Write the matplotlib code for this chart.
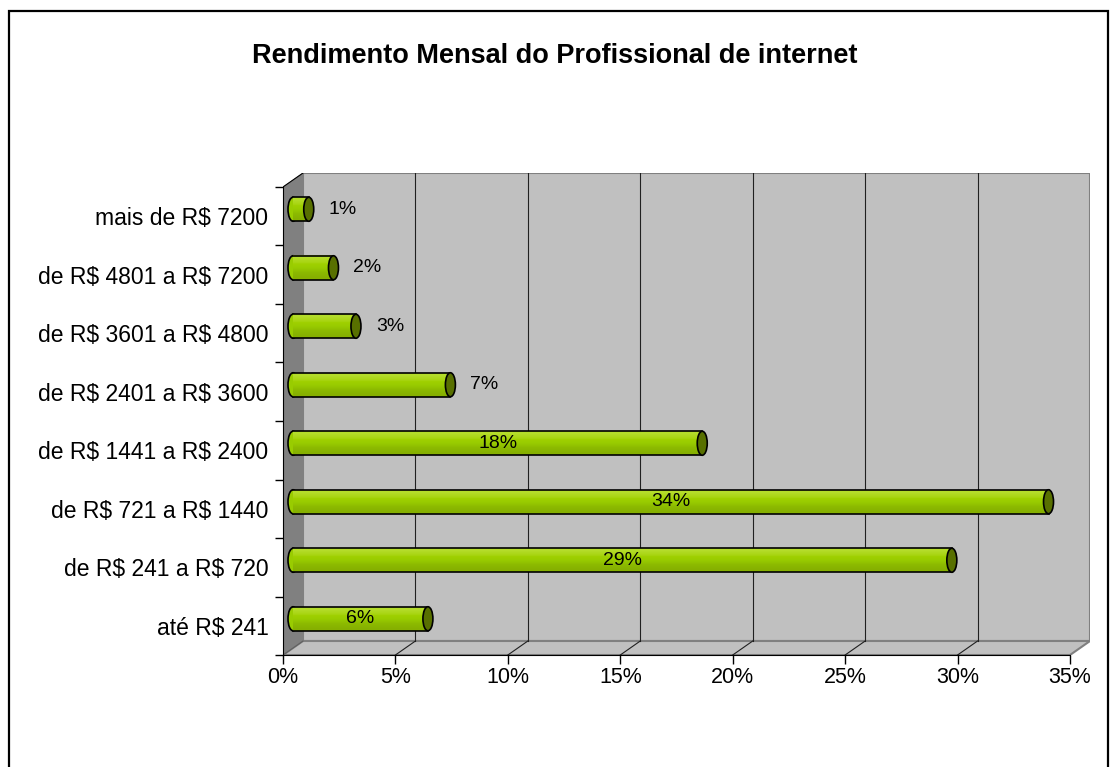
import numpy as np
import matplotlib.pyplot as plt
from matplotlib.patches import Polygon, Ellipse, Rectangle
from matplotlib.colors import LinearSegmentedColormap

plt.rcParams['font.family'] = ['Liberation Sans', 'DejaVu Sans']

categorias = ["até R$ 241", "de R$ 241 a R$ 720", "de R$ 721 a R$ 1440",
              "de R$ 1441 a R$ 2400", "de R$ 2401 a R$ 3600",
              "de R$ 3601 a R$ 4800", "de R$ 4801 a R$ 7200", "mais de R$ 7200"]
valores = [6.0, 29.3, 33.6, 18.2, 7.0, 2.8, 1.8, 0.7]
rotulos = ["6%", "29%", "34%", "18%", "7%", "3%", "2%", "1%"]
dentro = [True, True, True, True, False, False, False, False]
xticks = [0, 5, 10, 15, 20, 25, 30, 35]

W, H = 1110, 767
fig = plt.figure(figsize=(W / 100, H / 100), dpi=100)

# front plane in pixels
x0px, x35px = 283, 1070
ybot, ytop = 655, 187
ddx, ddy = 20, 14          # depth offset in px
pxu = (x35px - x0px) / 35.0
pyu = (ybot - ytop) / 8.0
dx = ddx / pxu
dy = ddy / pyu

ax = fig.add_axes([x0px / W, (H - ybot) / H, (x35px + ddx - x0px) / W, (ybot - ytop + ddy) / H])
ax.set_xlim(0, 35 + dx)
ax.set_ylim(-0.5, 7.5 + dy)
ax.set_facecolor('none')

# walls
ax.add_patch(Polygon([(dx, -0.5 + dy), (35 + dx, -0.5 + dy), (35 + dx, 7.5 + dy), (dx, 7.5 + dy)],
                     closed=True, fc='#C0C0C0', ec='#808080', lw=1.5, zorder=0))
ax.add_patch(Polygon([(0, -0.5), (dx, -0.5 + dy), (dx, 7.5 + dy), (0, 7.5)],
                     closed=True, fc='#808080', ec='#808080', lw=0.5, zorder=0.5))
ax.add_patch(Polygon([(0, -0.5), (35, -0.5), (35 + dx, -0.5 + dy), (dx, -0.5 + dy)],
                     closed=True, fc='#C0C0C0', ec='#808080', lw=1.5, zorder=0.5))
ax.plot([0, dx], [7.5, 7.5 + dy], color='black', lw=0.8, zorder=1)
ax.plot([0, dx], [-0.5, -0.5 + dy], color='#606060', lw=0.8, zorder=1)

# linhas de grade
for t in xticks[1:-1]:
    ax.plot([t + dx, t + dx], [-0.5 + dy, 7.5 + dy], color='#202020', lw=0.8, zorder=1)
    ax.plot([t, t + dx], [-0.5, -0.5 + dy], color='#202020', lw=0.8, zorder=1)

# barras (cilindros)
bh = 24 / pyu
capw = 10 / pxu
grad = np.array([[0.0], [0.15], [0.5], [0.75], [1.0]])
cmap = LinearSegmentedColormap.from_list('g', ['#B4DC2A', '#9FD000', '#99CC00', '#8CBA00', '#86B000'])
for i, v in enumerate(valores):
    yc = i + dy / 2
    xs = dx / 2
    xe = v + dx / 2
    ax.add_patch(Ellipse((xs, yc), capw, bh, fc='#99CC00', ec='black', lw=1.2, zorder=2))
    ax.imshow(grad, cmap=cmap, aspect='auto', extent=(xs, xe, yc - bh / 2, yc + bh / 2),
              zorder=3, interpolation='bilinear')
    ax.plot([xs, xe], [yc + bh / 2, yc + bh / 2], color='black', lw=1.2, zorder=4)
    ax.plot([xs, xe], [yc - bh / 2, yc - bh / 2], color='black', lw=1.2, zorder=4)
    ax.add_patch(Ellipse((xe, yc), capw, bh, fc='#587000', ec='black', lw=1.2, zorder=5))
    if dentro[i]:
        ax.text(xs + v / 2, yc, rotulos[i], ha='center', va='center', fontsize=14, zorder=6)
    else:
        ax.text(xe + capw / 2 + 15 / pxu, yc, rotulos[i], ha='left', va='center', fontsize=14, zorder=6)

# eixos
for s in ['top', 'right']:
    ax.spines[s].set_visible(False)
ax.spines['bottom'].set_bounds(0, 35)
ax.spines['left'].set_bounds(-0.5, 7.5)
ax.spines['bottom'].set_zorder(7)
ax.spines['left'].set_zorder(7)
ax.set_xticks(xticks)
ax.set_xticklabels([f"{t}%" for t in xticks], fontsize=15.5)
ax.set_yticks(range(len(categorias)))
ax.set_yticklabels([c.replace('$', r'\$') for c in categorias], fontsize=16.5)
ax.set_yticks(np.arange(-0.5, 8, 1), minor=True)
ax.tick_params(axis='y', which='major', length=0, pad=10.5)
ax.tick_params(axis='y', which='minor', length=6, width=1, direction='out')
ax.tick_params(axis='x', which='major', length=6.5, width=1, direction='out', pad=2)
ax.set_ylim(-0.5, 7.5 + dy)

fig.text(0.5, 1 - 56 / H, "Rendimento Mensal do Profissional de internet",
         ha='center', va='center', fontsize=19.5, fontweight='bold')

fig.add_artist(Rectangle((8.5 / W, -0.1), (1107.5 - 8.5) / W, 1.1 - 11 / H,
                         transform=fig.transFigure, fill=False, ec='black', lw=1.6))

fig.savefig('out.png', dpi=100)
